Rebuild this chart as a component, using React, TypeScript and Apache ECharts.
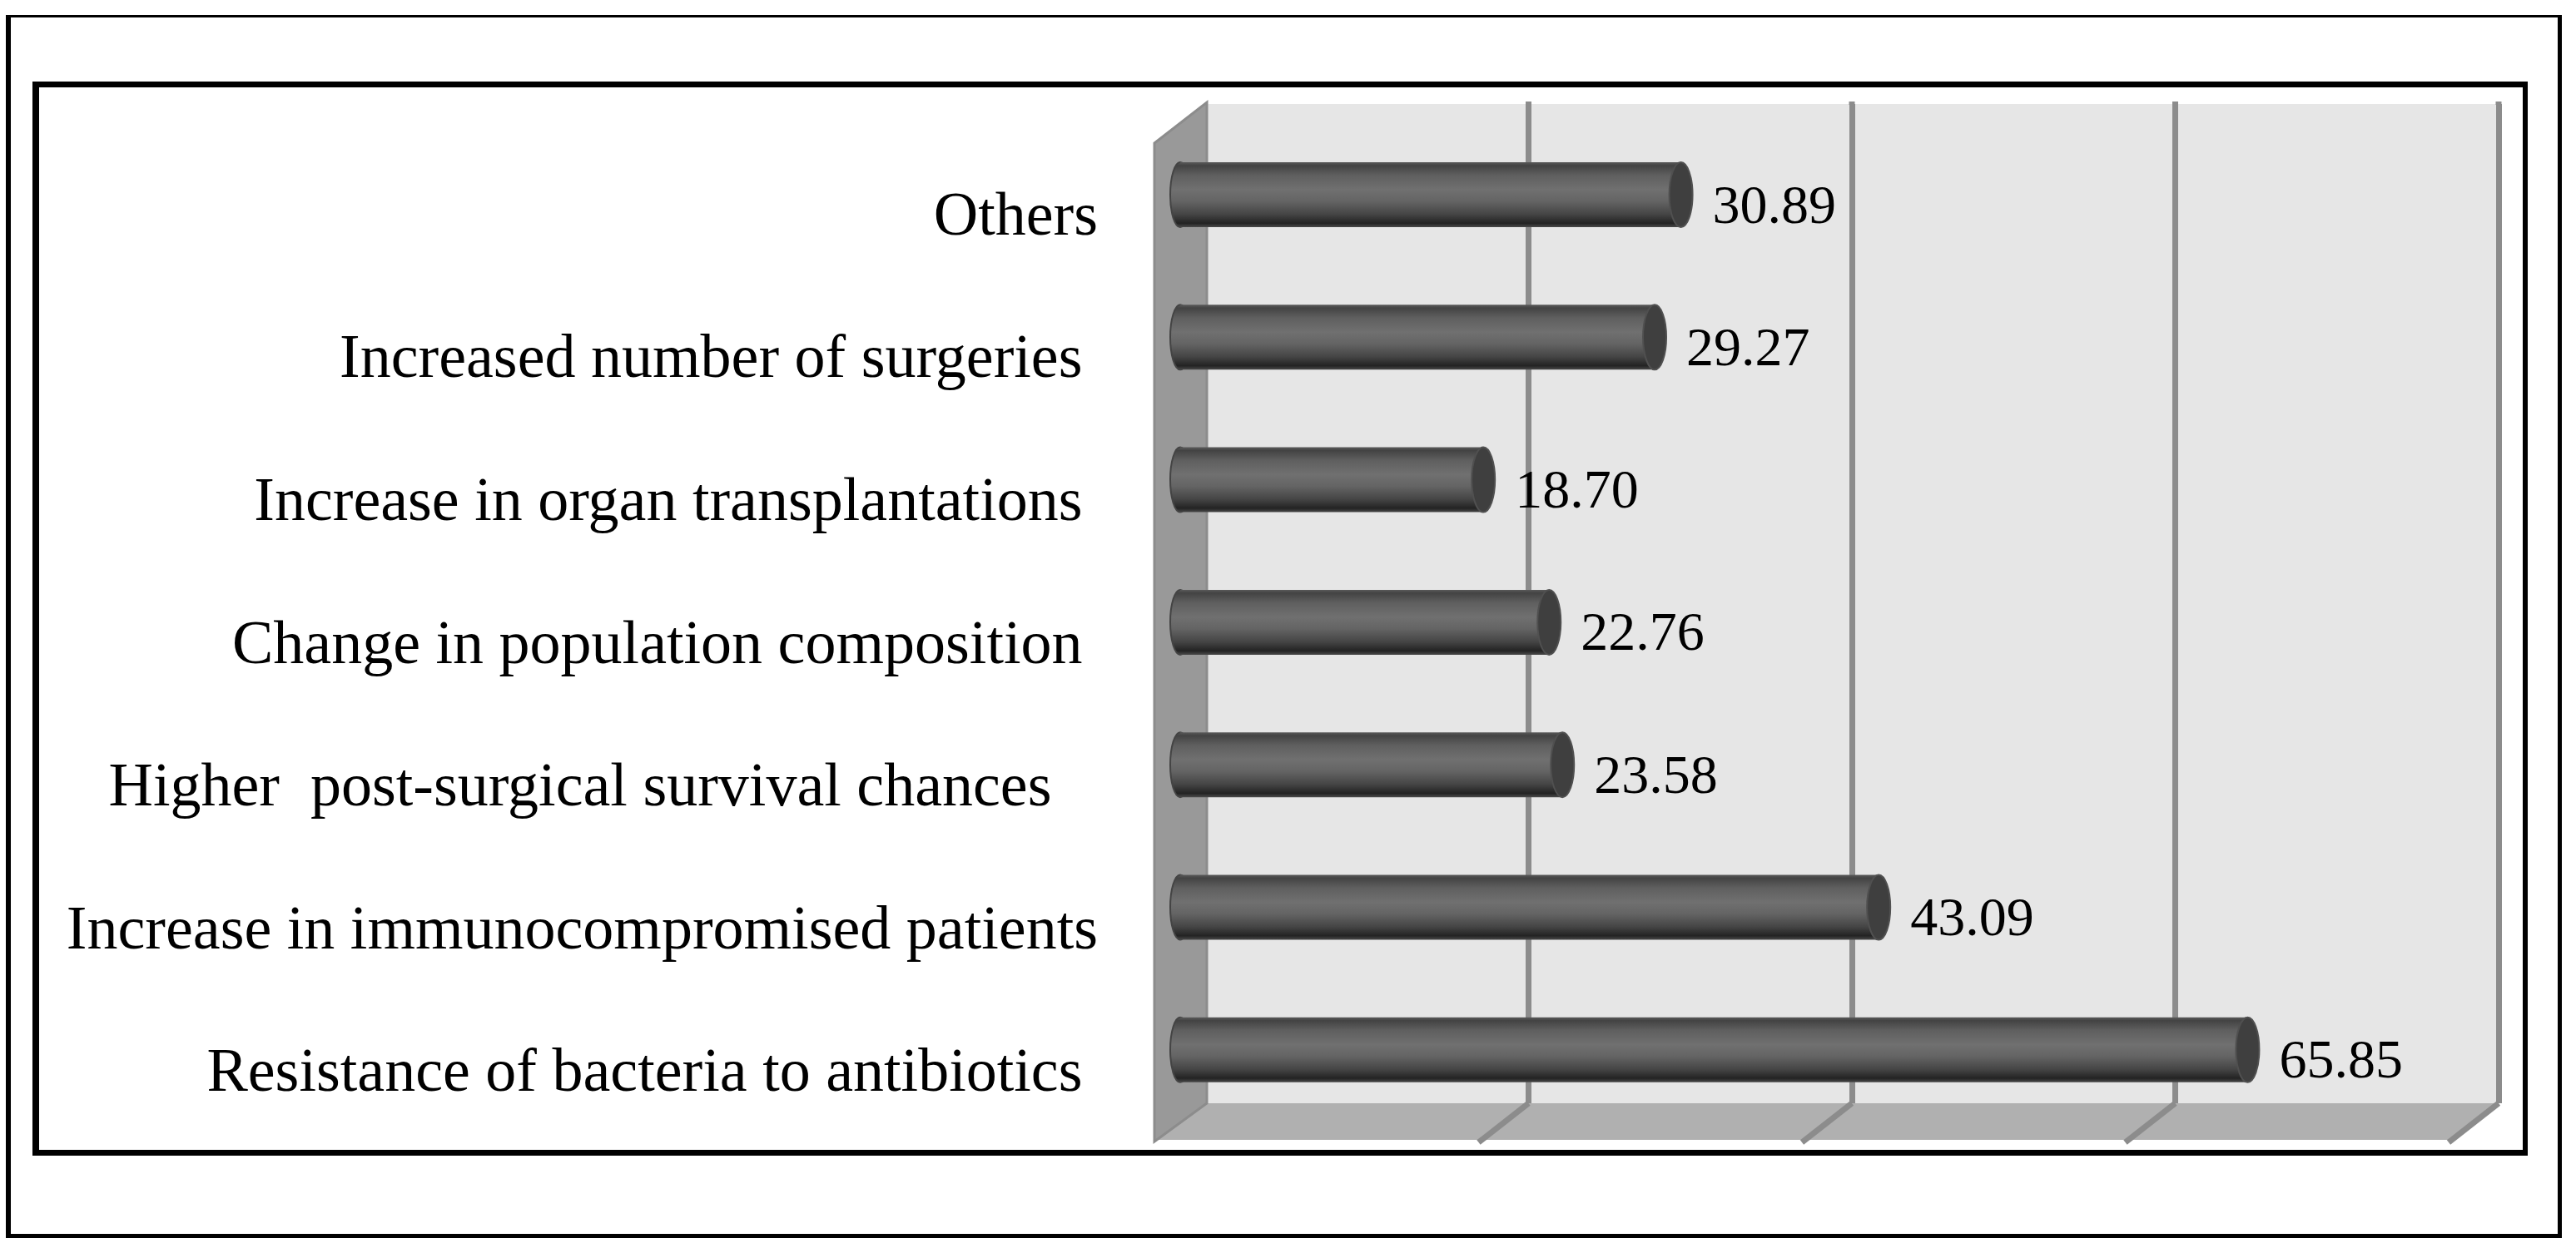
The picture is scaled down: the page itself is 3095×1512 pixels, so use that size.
import React, { useEffect, useRef } from "react";
import * as echarts from "echarts";

const categories = [
  "Resistance of bacteria to antibiotics ",
  "Increase in immunocompromised patients",
  "Higher  post-surgical survival chances   ",
  "Change in population composition ",
  "Increase in organ transplantations ",
  "Increased number of surgeries ",
  "Others",
];
const values = [65.85, 43.09, 23.58, 22.76, 18.7, 29.27, 30.89];
const xTicks = [0, 20, 40, 60, 80];

const DEPTH_X = 60;
const DEPTH_Y = 47;

const ink = "#000000";
const frames = [
  [7, 18, 6, 1470],
  [7, 18, 3071, 3],
  [3073, 18, 5, 1470],
  [7, 1483, 3071, 5],
  [39, 98, 8, 1291],
  [39, 98, 2998, 7],
  [3031, 98, 6, 1291],
  [39, 1382, 2998, 7],
];

const barGradient = new echarts.graphic.LinearGradient(0, 0, 0, 1, [
  { offset: 0, color: "#5a5a5a" },
  { offset: 0.05, color: "#434343" },
  { offset: 0.2, color: "#5f5f5f" },
  { offset: 0.42, color: "#707070" },
  { offset: 0.6, color: "#646464" },
  { offset: 0.8, color: "#454545" },
  { offset: 0.94, color: "#232323" },
  { offset: 1, color: "#4a4a4a" },
]);

export default function App() {
  const ref = useRef<HTMLDivElement>(null);
  useEffect(() => {
    document.body.style.margin = "0";
    document.body.style.background = "#fff";
    const chart = echarts.init(ref.current!, null, { renderer: "svg" });
    const hiddenValueAxis = (gridIndex: number) => ({
      type: "value" as const,
      gridIndex,
      min: 0,
      max: 80,
      interval: 20,
      axisLine: { show: false },
      axisTick: { show: false },
      axisLabel: { show: false },
      splitLine: { show: false },
    });
    const hiddenCategoryAxis = {
      type: "category" as const,
      data: categories,
      axisLine: { show: false },
      axisTick: { show: false },
    };
    const capData = values.map((v, i) => [v, i]);
    chart.setOption({
      animation: false,
      backgroundColor: "#ffffff",
      grid: [
        // back wall plane
        { left: 1448, top: 125, width: 1554, height: 1201, show: true, backgroundColor: "#e6e6e6", borderWidth: 0 },
        // mid plane, where the bars stand
        { left: 1418, top: 148.4, width: 1558, height: 1199 },
        // front plane, where the category labels sit
        { left: 1385, top: 171, width: 1551, height: 1201 },
      ],
      xAxis: [
        {
          ...hiddenValueAxis(0),
          splitLine: { show: true, showMinLine: false, lineStyle: { color: "#8c8c8c", width: 7 } },
        },
        hiddenValueAxis(1),
        hiddenValueAxis(2),
      ],
      yAxis: [
        { ...hiddenCategoryAxis, gridIndex: 0, axisLabel: { show: false } },
        { ...hiddenCategoryAxis, gridIndex: 1, axisLabel: { show: false } },
        {
          ...hiddenCategoryAxis,
          gridIndex: 2,
          axisLabel: {
            show: true,
            margin: 66,
            color: ink,
            fontFamily: "Liberation Serif",
            fontSize: 74,
            align: "right",
            interval: 0,
          },
        },
      ],
      graphic: frames.map(([x, y, width, height]) => ({
        type: "rect",
        shape: { x, y, width, height },
        style: { fill: ink },
        silent: true,
      })),
      series: [
        {
          type: "custom",
          name: "floor and side wall",
          xAxisIndex: 0,
          yAxisIndex: 0,
          z: 1,
          silent: true,
          clip: false,
          data: [[0, 0]],
          encode: { x: 0, y: 1 },
          renderItem: (params: any) => {
            const c = params.coordSys;
            const bottom = c.y + c.height;
            const right = c.x + c.width;
            return {
              type: "group",
              children: [
                {
                  type: "polygon",
                  shape: {
                    points: [
                      [c.x, bottom],
                      [right, bottom],
                      [right - DEPTH_X, bottom + 44],
                      [c.x - DEPTH_X, bottom + 44],
                    ],
                  },
                  style: { fill: "#b0b0b0" },
                },
                {
                  type: "polygon",
                  shape: {
                    points: [
                      [c.x + 2, c.y - 2],
                      [c.x + 2, bottom],
                      [c.x - 61, bottom + DEPTH_Y - 1],
                      [c.x - 61, c.y + 47],
                    ],
                  },
                  style: { fill: "#999999", stroke: "#8c8c8c", lineWidth: 3 },
                },
              ],
            };
          },
        },
        {
          type: "custom",
          name: "grid depth lines",
          xAxisIndex: 0,
          yAxisIndex: 0,
          z: 2,
          silent: true,
          clip: false,
          data: xTicks.slice(1).map((t) => [t, 0]),
          encode: { x: 0, y: 1 },
          renderItem: (params: any, api: any) => {
            const c = params.coordSys;
            const x = api.coord([api.value(0), 0])[0];
            const bottom = c.y + c.height;
            const style = { stroke: "#8c8c8c", lineWidth: 7, fill: "none" };
            return {
              type: "group",
              children: [
                { type: "line", shape: { x1: x, y1: bottom, x2: x - DEPTH_X, y2: bottom + DEPTH_Y }, style },
                { type: "line", shape: { x1: x, y1: c.y - 3, x2: x, y2: c.y + 1 }, style },
              ],
            };
          },
        },
        {
          type: "custom",
          name: "Bar start caps",
          xAxisIndex: 1,
          yAxisIndex: 1,
          z: 3,
          silent: true,
          clip: false,
          data: capData,
          encode: { x: 0, y: 1 },
          renderItem: (_params: any, api: any) => {
            const [xStart, y] = api.coord([0, api.value(1)]);
            return {
              type: "ellipse",
              shape: { cx: xStart, cy: y, rx: 12, ry: 39 },
              style: { fill: barGradient, stroke: "#444444", lineWidth: 2 },
            };
          },
        },
        {
          type: "bar",
          name: "Bar bodies",
          xAxisIndex: 1,
          yAxisIndex: 1,
          z: 4,
          barWidth: 78,
          data: values,
          itemStyle: { color: barGradient, borderWidth: 0 },
          label: {
            show: true,
            position: "right",
            distance: 38,
            offset: [0, 11],
            color: ink,
            fontFamily: "Liberation Serif",
            fontSize: 66,
            formatter: (p: any) => Number(p.value).toFixed(2),
          },
        },
        {
          type: "custom",
          name: "Bar end caps",
          xAxisIndex: 1,
          yAxisIndex: 1,
          z: 5,
          silent: true,
          clip: false,
          data: capData,
          encode: { x: 0, y: 1 },
          renderItem: (_params: any, api: any) => {
            const [xEnd, y] = api.coord([api.value(0), api.value(1)]);
            return {
              type: "ellipse",
              shape: { cx: xEnd, cy: y, rx: 14, ry: 39 },
              style: { fill: "#3f3f3f", stroke: "#505050", lineWidth: 2 },
            };
          },
        },
      ],
    });
    return () => chart.dispose();
  }, []);
  return <div ref={ref} style={{ width: 3095, height: 1512 }} />;
}
